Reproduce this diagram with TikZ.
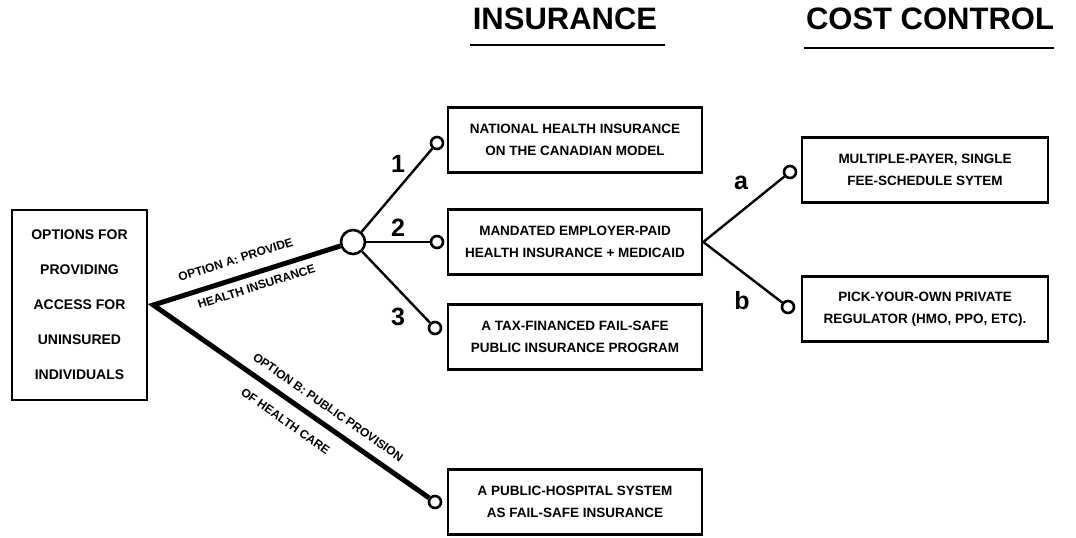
\documentclass[tikz,border=0pt]{standalone}
\usepackage{fontspec}
\setmainfont{Liberation Sans}
\usetikzlibrary{positioning, calc}

\begin{document}
\begin{tikzpicture}[x=1pt,y=-1pt,on grid,
    optbox/.style={draw,line width=2.6pt,align=center,inner sep=0pt,
      minimum width=254pt,minimum height=65pt,
      font=\fontsize{13.5}{22}\selectfont\bfseries},
    costbox/.style={optbox,minimum width=246pt},
    tip/.style={circle,draw,line width=2.6pt,minimum size=12pt,inner sep=0pt},
    hub/.style={circle,draw,line width=2.6pt,minimum size=24pt,inner sep=0pt},
    thinline/.style={line width=2.4pt},
    thickline/.style={line width=5pt,line join=miter},
    numlabel/.style={inner sep=0pt,font=\fontsize{25}{25}\selectfont\bfseries},
    diaglabel/.style={sloped,inner sep=1pt,font=\fontsize{12}{12}\selectfont\bfseries},
    heading/.style={anchor=base,inner sep=0pt,font=\fontsize{31}{31}\selectfont\bfseries},
    rule/.style={line width=2pt}]
      \useasboundingbox (0,0) rectangle (1076,538);
      % column headings
      \node[heading] (ins) at (565,29) {INSURANCE};
      \node[heading] (cost) at (930,29) {COST CONTROL};
      \draw[rule] ($(ins.base west)+(-3,16)$) -- ($(ins.base east)+(8,16)$);
      \draw[rule] ($(cost.base west)+(-2,19)$) -- ($(cost.base east)+(0,19)$);
      % start box
      \node[draw,line width=2.6pt,align=center,minimum width=135pt,minimum height=190pt,
        font=\fontsize{14}{35}\selectfont\bfseries] (lb) at (79.5,305)
        {OPTIONS FOR\\PROVIDING\\ACCESS FOR\\UNINSURED\\INDIVIDUALS};
      \coordinate[right=5pt of lb.east] (vtx);
      % insurance options
      \node[optbox] (box1) at (575,140) {NATIONAL HEALTH INSURANCE\\ON THE CANADIAN MODEL};
      \node[optbox] (box2) [below=102pt of box1] {MANDATED EMPLOYER-PAID\\HEALTH INSURANCE + MEDICAID};
      \node[optbox] (box3) [below=95pt of box2] {A TAX-FINANCED FAIL-SAFE\\PUBLIC INSURANCE PROGRAM};
      \node[optbox] (box4) [below=165pt of box3] {A PUBLIC-HOSPITAL SYSTEM\\AS FAIL-SAFE INSURANCE};
      % cost control options
      \node[costbox] (boxa) at (925,170) {MULTIPLE-PAYER, SINGLE\\FEE-SCHEDULE SYTEM};
      \node[costbox] (boxb) [below=139pt of boxa] {PICK-YOUR-OWN PRIVATE\\REGULATOR (HMO, PPO, ETC).};
      % branch points
      \node[hub] (hb) at (353,242) {};
      \node[tip] (c1) at (437,143) {};
      \node[tip] (c2) [left=138pt of box2] {};
      \node[tip] (c3) at (435,328) {};
      \node[tip] (c4) at (435,502) {};
      \node[tip] (ca) at (790,172) {};
      \node[tip] (cb) at (788,307) {};
      % main options
      \draw[thickline] (hb) -- (vtx) -- (c4);
      \path (vtx) -- (hb)
        node[diaglabel,above=13pt,pos=.47] {OPTION A: PROVIDE}
        node[diaglabel,below=8pt,pos=.53] {HEALTH INSURANCE};
      \path (vtx) -- (c4)
        node[diaglabel,above=11pt,pos=.6] {OPTION B: PUBLIC PROVISION}
        node[diaglabel,below=14pt,pos=.52] {OF HEALTH CARE};
      % sub options
      \draw[thinline] (hb) -- (c1);
      \draw[thinline] (hb) -- (c2);
      \draw[thinline] (hb) -- (c3);
      \draw[thinline] (box2.east) -- (ca);
      \draw[thinline] (box2.east) -- (cb);
      \node[numlabel] (n1) at (398,164) {1};
      \node[numlabel] (n2) at (398,228) {2};
      \node[numlabel] (n3) at (398,317) {3};
      \node[numlabel] (na) at (741,183) {a};
      \node[numlabel] (nb) at (742,301) {b};
    \end{tikzpicture}
\end{document}
